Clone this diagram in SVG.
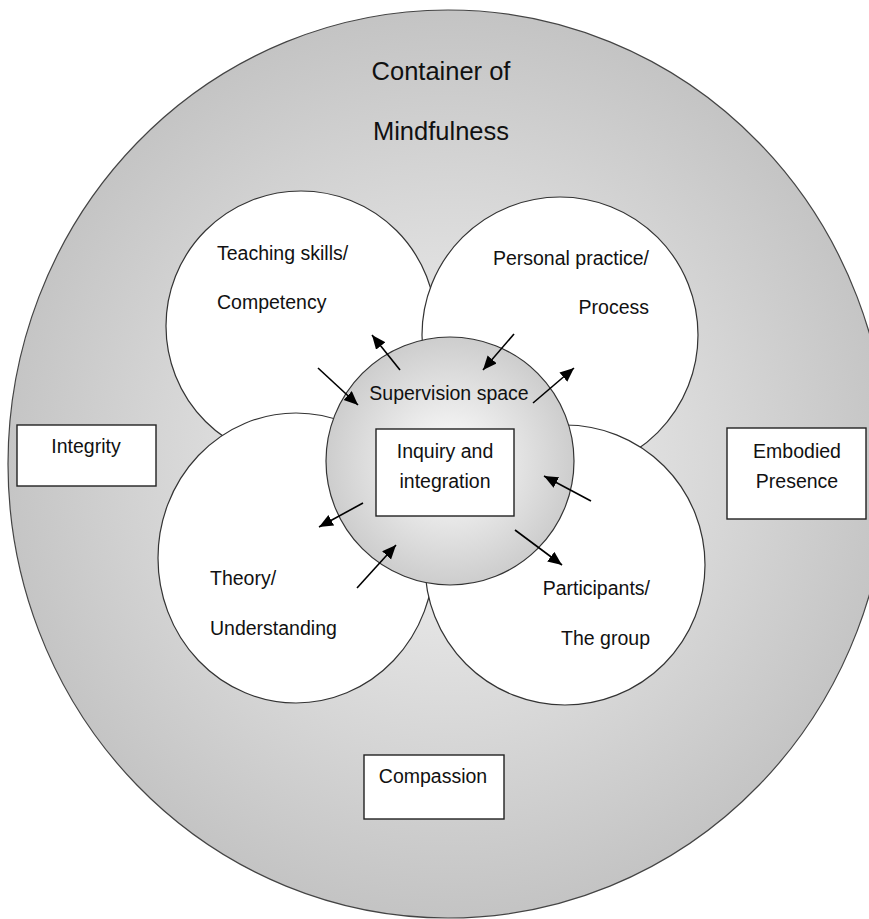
<svg xmlns="http://www.w3.org/2000/svg" width="869" height="919" viewBox="0 0 869 919">
<defs>
<radialGradient id="gOuter" cx="448" cy="464" r="450" gradientUnits="userSpaceOnUse">
<stop offset="0" stop-color="#f4f4f4"/>
<stop offset="1" stop-color="#c4c4c4"/>
</radialGradient>
<radialGradient id="gSup" cx="450" cy="461" r="124" gradientUnits="userSpaceOnUse">
<stop offset="0" stop-color="#ffffff"/>
<stop offset="1" stop-color="#cdcdcd"/>
</radialGradient>
<marker id="ah" markerUnits="userSpaceOnUse" markerWidth="16" markerHeight="14" refX="14" refY="6" orient="auto">
<path d="M0,0 L14,6 L0,12 Z" fill="#000"/>
</marker>
<style>
.txt{font-family:"Liberation Sans",Arial,sans-serif;fill:#111;}
.lg{font-size:25.5px;}
.md{font-size:19.5px;}
.circ{fill:#fff;stroke:#333;stroke-width:1.2;}
.box{fill:#fff;stroke:#222;stroke-width:1.4;}
.arr{stroke:#000;stroke-width:1.6;fill:none;marker-end:url(#ah);}
</style>
</defs>

<g id="container">
<ellipse cx="448" cy="464" rx="440" ry="454" fill="url(#gOuter)" stroke="#444" stroke-width="1.2"/>
<text class="txt lg" x="441" y="80" text-anchor="middle">Container of</text>
<text class="txt lg" x="441" y="140" text-anchor="middle">Mindfulness</text>
</g>

<g id="teaching">
<circle class="circ" cx="301" cy="326" r="135"/>
<text class="txt md" x="217" y="260">Teaching skills/</text>
<text class="txt md" x="217" y="309">Competency</text>
</g>

<g id="personal">
<circle class="circ" cx="560" cy="335" r="138"/>
<text class="txt md" x="649" y="265" text-anchor="end">Personal practice/</text>
<text class="txt md" x="649" y="314" text-anchor="end">Process</text>
</g>

<g id="theory">
<ellipse class="circ" cx="296" cy="558" rx="138" ry="145"/>
<text class="txt md" x="210" y="585">Theory/</text>
<text class="txt md" x="210" y="635">Understanding</text>
</g>

<g id="participants">
<circle class="circ" cx="565" cy="565" r="140"/>
<text class="txt md" x="650" y="595" text-anchor="end">Participants/</text>
<text class="txt md" x="650" y="645" text-anchor="end">The group</text>
</g>

<g id="supervision">
<circle cx="450" cy="461" r="124" fill="url(#gSup)" stroke="#333" stroke-width="1.2"/>
<text class="txt md" x="449" y="400" text-anchor="middle">Supervision space</text>
</g>

<g id="inquiry">
<rect class="box" x="376" y="429" width="138" height="87"/>
<text class="txt md" x="445" y="458" text-anchor="middle">Inquiry and</text>
<text class="txt md" x="445" y="488" text-anchor="middle">integration</text>
</g>

<g id="integrity">
<rect class="box" x="17" y="425" width="139" height="61"/>
<text class="txt md" x="86" y="453" text-anchor="middle">Integrity</text>
</g>

<g id="embodied">
<rect class="box" x="727" y="428" width="139" height="91"/>
<text class="txt md" x="797" y="458" text-anchor="middle">Embodied</text>
<text class="txt md" x="797" y="488" text-anchor="middle">Presence</text>
</g>

<g id="compassion">
<rect class="box" x="364" y="755" width="140" height="64"/>
<text class="txt md" x="433" y="783" text-anchor="middle">Compassion</text>
</g>

<g id="connectors">
<line class="arr" x1="400" y1="370" x2="372" y2="335"/>
<line class="arr" x1="318" y1="368" x2="358" y2="405"/>
<line class="arr" x1="514" y1="334" x2="483" y2="370"/>
<line class="arr" x1="533" y1="403" x2="574" y2="368"/>
<line class="arr" x1="591" y1="501" x2="544" y2="476"/>
<line class="arr" x1="515" y1="530" x2="562" y2="565"/>
<line class="arr" x1="363" y1="503" x2="319" y2="527"/>
<line class="arr" x1="357" y1="588" x2="396" y2="545"/>
</g>
</svg>
